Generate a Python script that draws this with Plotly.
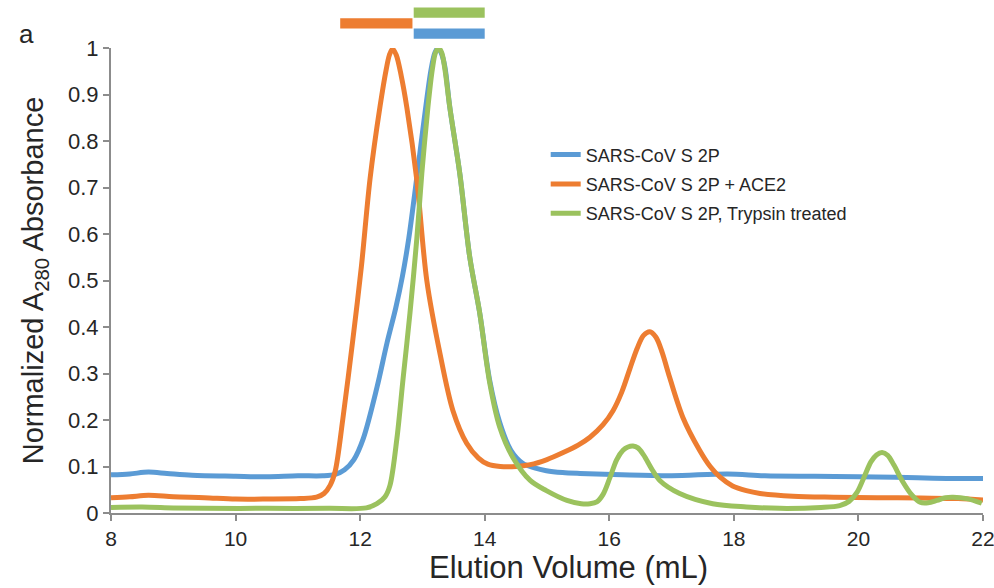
import plotly.graph_objects as go

# Elution volume (mL) and normalized A280 absorbance
blue_x = [8.0, 8.3, 8.6, 8.9, 9.3, 10.0, 10.5, 11.0, 11.4, 11.6, 11.75, 11.9, 12.05, 12.27, 12.43, 12.57, 12.68,
          12.78, 12.87, 12.96, 13.06, 13.14, 13.2, 13.25, 13.3, 13.36, 13.44, 13.6, 13.76, 13.92, 14.08, 14.24, 14.42,
          14.61, 14.8, 14.99, 15.25, 15.53, 16.2, 17.0, 17.9, 18.5, 19.3, 20.0, 20.6, 21.2, 22.0]
blue_y = [0.082, 0.084, 0.088, 0.085, 0.081, 0.079, 0.078, 0.080, 0.080, 0.083, 0.093, 0.115, 0.16, 0.27, 0.365, 0.44, 0.51,
          0.59, 0.68, 0.775, 0.88, 0.955, 0.99, 1.0, 0.99, 0.96, 0.872, 0.73, 0.55, 0.43, 0.285, 0.195, 0.135,
          0.107, 0.097, 0.091, 0.087, 0.085, 0.082, 0.080, 0.084, 0.080, 0.079, 0.078, 0.077, 0.075, 0.074]

orange_x = [8.0, 8.3, 8.6, 9.0, 9.5, 10.0, 10.5, 11.04, 11.3, 11.42, 11.52, 11.6, 11.72, 11.88, 12.02, 12.16, 12.32,
            12.42, 12.47, 12.52, 12.58, 12.66, 12.75, 12.91, 13.07, 13.28, 13.49, 13.71, 13.9, 14.05, 14.25, 14.5, 14.73, 15.0, 15.26,
            15.5, 15.69, 15.9, 16.06, 16.2, 16.33, 16.45, 16.55, 16.65, 16.75, 16.85, 16.95, 17.18, 17.45, 17.62, 17.78, 17.98, 18.2, 18.42, 18.95,
            19.6, 20.3, 21.0, 21.6, 22.0]
orange_y = [0.033, 0.035, 0.038, 0.035, 0.033, 0.030, 0.030, 0.031, 0.034, 0.042, 0.06, 0.09, 0.2, 0.37, 0.53, 0.72, 0.875,
            0.955, 0.985, 0.998, 0.985, 0.94, 0.872, 0.716, 0.50, 0.344, 0.22, 0.15, 0.118, 0.105, 0.10, 0.10, 0.104, 0.115, 0.13,
            0.146, 0.163, 0.19, 0.22, 0.26, 0.31, 0.355, 0.382, 0.39, 0.378, 0.345, 0.3, 0.206, 0.135, 0.1, 0.077, 0.058, 0.048, 0.042, 0.036,
            0.034, 0.033, 0.032, 0.031, 0.028]

green_x = [8.0, 8.5, 9.0, 9.5, 10.5, 11.5, 12.1, 12.27, 12.4, 12.48, 12.59, 12.69, 12.8, 12.91, 12.99, 13.09,
           13.16, 13.21, 13.26, 13.31, 13.36, 13.44, 13.6, 13.76, 13.92, 14.08, 14.24, 14.45, 14.73, 14.99, 15.32,
           15.55, 15.69, 15.8, 15.9, 16.01, 16.12, 16.22, 16.3, 16.38, 16.46, 16.55, 16.68, 16.81, 17.13, 17.66, 18.2, 18.74, 19.4, 19.7, 19.85, 19.98,
           20.1, 20.2, 20.29, 20.38, 20.47, 20.57, 20.7, 20.85, 20.99, 21.12, 21.26, 21.4, 21.52, 21.74, 21.98]
green_y = [0.012, 0.013, 0.011, 0.01, 0.01, 0.01, 0.011, 0.02, 0.035, 0.06, 0.16, 0.29, 0.43, 0.59, 0.73, 0.875,
           0.955, 0.99, 1.0, 0.99, 0.955, 0.872, 0.73, 0.55, 0.43, 0.28, 0.185, 0.12, 0.07, 0.048, 0.027,
           0.02, 0.02, 0.024, 0.04, 0.076, 0.115, 0.135, 0.142, 0.144, 0.14, 0.125, 0.095, 0.07, 0.042, 0.02, 0.013, 0.01, 0.012, 0.016, 0.025, 0.045,
           0.08, 0.11, 0.125, 0.13, 0.124, 0.103, 0.07, 0.04, 0.023, 0.022, 0.027, 0.033, 0.034, 0.031, 0.021]

series_names = ["SARS-CoV S 2P", "SARS-CoV S 2P + ACE2", "SARS-CoV S 2P, Trypsin treated"]
colors = ["#5B9BD5", "#ED7D31", "#9BC25E"]

# fraction bars at top (x ranges in mL)
bar_ranges = {"orange": (11.68, 12.84), "green": (12.86, 14.0), "blue": (12.86, 14.0)}

x_ticks = [8, 10, 12, 14, 16, 18, 20, 22]
y_ticks = [0, 0.1, 0.2, 0.3, 0.4, 0.5, 0.6, 0.7, 0.8, 0.9, 1]

FONT = "Liberation Sans, Arial, sans-serif"
TXT = "#262626"

fig = go.Figure()
for i, (xs, ys) in enumerate([(blue_x, blue_y), (orange_x, orange_y), (green_x, green_y)]):
    fig.add_trace(go.Scatter(
        x=xs, y=ys, mode="lines", name=series_names[i],
        line=dict(color=colors[i], width=5, shape="spline", smoothing=0.9),
        cliponaxis=False, legendgroup=f"g{i}",
    ))

shapes = []
bar_specs = [("orange", colors[1], 1.042, 1.064), ("green", colors[2], 1.065, 1.087), ("blue", colors[0], 1.020, 1.042)]
for key, col, y0, y1 in bar_specs:
    x0, x1 = bar_ranges[key]
    shapes.append(dict(type="rect", xref="x", yref="paper", x0=x0, x1=x1, y0=y0, y1=y1,
                       fillcolor=col, line=dict(width=0), layer="above"))

fig.update_layout(
    width=994, height=588,
    margin=dict(l=111, r=11, t=48, b=75),
    paper_bgcolor="white", plot_bgcolor="white",
    font=dict(family=FONT, color=TXT),
    shapes=shapes,
    showlegend=True,
    legend=dict(x=0.4985, y=0.81, xanchor="left", yanchor="top",
                font=dict(size=18, family=FONT, color=TXT),
                bgcolor="rgba(0,0,0,0)", tracegroupgap=3, traceorder="grouped",
                itemwidth=30),
    xaxis=dict(range=[8, 22], tickvals=x_ticks, ticktext=[str(v) for v in x_ticks],
               showgrid=False, zeroline=False, showline=True, linecolor="#8C8C8C", linewidth=2,
               ticks="outside", ticklen=6, tickcolor="#8C8C8C", tickwidth=1.5,
               ticklabeloverflow="allow", automargin=False,
               tickfont=dict(size=21, family=FONT, color=TXT)),
    yaxis=dict(range=[0, 1], tickvals=y_ticks, ticktext=["0", "0.1", "0.2", "0.3", "0.4", "0.5", "0.6", "0.7", "0.8", "0.9", "1"],
               showgrid=False, zeroline=False, showline=True, linecolor="#8C8C8C", linewidth=2,
               ticks="outside", ticklen=6, tickcolor="#8C8C8C", tickwidth=1.5, automargin=False,
               tickfont=dict(size=22, family=FONT, color=TXT),
               title=dict(text="Normalized A<sub>280</sub> Absorbance", font=dict(size=29, family=FONT, color=TXT), standoff=16)),
    annotations=[
        dict(text="a", xref="paper", yref="paper", x=-0.097, y=1.03, xanchor="center", yanchor="middle",
             showarrow=False, font=dict(size=26, family=FONT, color=TXT)),
        dict(text="Elution Volume (mL)", xref="paper", yref="paper", x=0.525, y=-0.118,
             xanchor="center", yanchor="middle", showarrow=False,
             font=dict(size=31, family=FONT, color=TXT)),
    ],
)

fig.write_html("out.html")
